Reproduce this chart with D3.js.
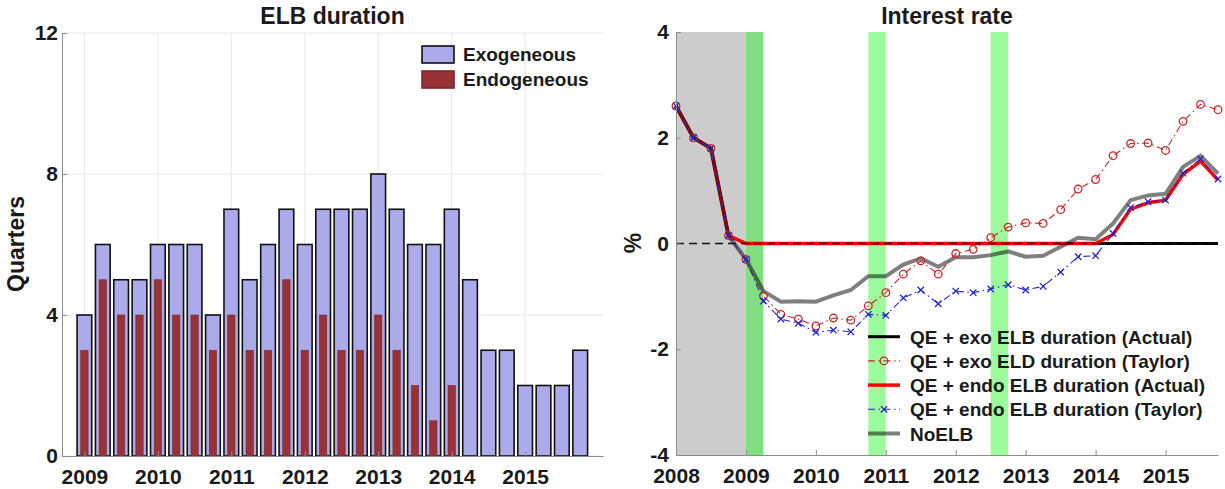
<!DOCTYPE html>
<html>
<head>
<meta charset="utf-8">
<title>ELB duration and interest rate</title>
<script src="https://cdn.jsdelivr.net/npm/d3@7"></script>
<style>
  body { margin: 0; background: #fff; }
  svg text { font-family: "Liberation Sans", Arial, Helvetica, sans-serif; font-weight: bold; fill: #1a1a1a; }
</style>
</head>
<body>
<svg id="svg" width="1225" height="489"></svg>
<script>
// ---- left panel data: ELB duration (quarters) ----
var barDates = [2009, 2009.25, 2009.5, 2009.75, 2010, 2010.25, 2010.5, 2010.75,
                2011, 2011.25, 2011.5, 2011.75, 2012, 2012.25, 2012.5, 2012.75,
                2013, 2013.25, 2013.5, 2013.75, 2014, 2014.25, 2014.5, 2014.75,
                2015, 2015.25, 2015.5, 2015.75];
var exoDuration  = [4, 6, 5, 5, 6, 6, 6, 4, 7, 5, 6, 7, 6, 7, 7, 7, 8, 7, 6, 6, 7, 5, 3, 3, 2, 2, 2, 3];
var endoDuration = [3, 5, 4, 4, 5, 4, 4, 3, 4, 3, 3, 5, 3, 4, 3, 3, 4, 3, 2, 1, 2, 0, 0, 0, 0, 0, 0, 0];
var leftYTicks = [0, 4, 8, 12];
var leftXTicks = [2009, 2010, 2011, 2012, 2013, 2014, 2015];

// ---- right panel data: interest rate (%) ----
var rateDates = [2008, 2008.25, 2008.5, 2008.75, 2009, 2009.25, 2009.5, 2009.75,
                 2010, 2010.25, 2010.5, 2010.75, 2011, 2011.25, 2011.5, 2011.75,
                 2012, 2012.25, 2012.5, 2012.75, 2013, 2013.25, 2013.5, 2013.75,
                 2014, 2014.25, 2014.5, 2014.75, 2015, 2015.25, 2015.5, 2015.75];
var exoActual  = [2.6, 2.0, 1.8, 0.15, 0, 0, 0, 0, 0, 0, 0, 0, 0, 0, 0, 0,
                  0, 0, 0, 0, 0, 0, 0, 0, 0, 0, 0, 0, 0, 0, 0, 0];
var exoTaylor  = [2.6, 2.0, 1.8, 0.15, -0.3, -0.99, -1.34, -1.43, -1.56, -1.41, -1.45, -1.18,
                  -0.93, -0.58, -0.33, -0.58, -0.19, -0.11, 0.11, 0.31, 0.39, 0.38, 0.64, 1.03,
                  1.21, 1.66, 1.89, 1.90, 1.76, 2.31, 2.63, 2.53];
var endoActual = [2.6, 2.0, 1.8, 0.15, 0, 0, 0, 0, 0, 0, 0, 0, 0, 0, 0, 0,
                  0, 0, 0, 0, 0, 0, 0, 0, 0, 0.17, 0.65, 0.77, 0.82, 1.31, 1.56, 1.2];
var endoTaylor = [2.6, 2.0, 1.8, 0.15, -0.3, -1.09, -1.43, -1.51, -1.68, -1.64, -1.67, -1.34,
                  -1.36, -1.03, -0.88, -1.14, -0.90, -0.93, -0.86, -0.78, -0.88, -0.81, -0.54, -0.25,
                  -0.23, 0.19, 0.68, 0.79, 0.82, 1.33, 1.60, 1.22];
var noELB      = [2.6, 2.0, 1.8, 0.15, -0.3, -0.9, -1.1, -1.09, -1.1, -0.98, -0.88, -0.62,
                  -0.62, -0.4, -0.28, -0.44, -0.26, -0.26, -0.22, -0.15, -0.25, -0.23, -0.06, 0.11,
                  0.08, 0.38, 0.82, 0.91, 0.94, 1.45, 1.66, 1.32];
var grayPeriod = [2008, 2009];
var greenBands = [[2009, 2009.25], [2010.75, 2011], [2012.5, 2012.75]];
var rightYTicks = [-4, -2, 0, 2, 4];
var rightXTicks = [2008, 2009, 2010, 2011, 2012, 2013, 2014, 2015];
var seriesNames = ["QE + exo ELB duration (Actual)", "QE + exo ELD duration (Taylor)",
                   "QE + endo ELB duration (Actual)", "QE + endo ELB duration (Taylor)", "NoELB"];

var svg = d3.select("#svg");
var axisColor = "#8c8c8c";

// ================= left panel =================
var L = {left: 62, right: 603, top: 33, bottom: 456};
var xL = d3.scaleLinear().domain([2008.695, 2016.06]).range([L.left, L.right]);
var yL = d3.scaleLinear().domain([0, 12]).range([L.bottom, L.top]);

var gL = svg.append("g");

// grid
gL.selectAll("line.hgrid").data(leftYTicks).enter().append("line")
  .attr("x1", L.left).attr("x2", L.right)
  .attr("y1", function(d) { return yL(d); }).attr("y2", function(d) { return yL(d); })
  .attr("stroke", "#e8e8e8").attr("stroke-width", 1);
gL.selectAll("line.vgrid").data(leftXTicks).enter().append("line")
  .attr("x1", function(d) { return xL(d); }).attr("x2", function(d) { return xL(d); })
  .attr("y1", L.top).attr("y2", L.bottom)
  .attr("stroke", "#e8e8e8").attr("stroke-width", 1);

// bars
var exoW = xL(2009.2) - xL(2009);
var endoW = xL(2009.1) - xL(2009);
gL.selectAll("rect.exo").data(exoDuration).enter().append("rect")
  .attr("x", function(d, i) { return xL(barDates[i]) - exoW / 2; })
  .attr("y", function(d) { return yL(d); })
  .attr("width", exoW)
  .attr("height", function(d) { return yL(0) - yL(d); })
  .attr("fill", "#ababeb").attr("stroke", "#111").attr("stroke-width", 1.6);
gL.selectAll("rect.endo").data(endoDuration).enter().append("rect")
  .attr("x", function(d, i) { return xL(barDates[i]) - endoW / 2; })
  .attr("y", function(d) { return yL(d); })
  .attr("width", endoW)
  .attr("height", function(d) { return yL(0) - yL(d); })
  .attr("fill", "#983236").attr("stroke", "#7a2a2e").attr("stroke-width", 0.6);

// axes
var plain = function(d) { return String(d); };
var axL = d3.axisLeft(yL).tickValues(leftYTicks).tickFormat(plain).tickSizeInner(-5).tickSizeOuter(0).tickPadding(4);
var axB = d3.axisBottom(xL).tickValues(leftXTicks).tickFormat(plain).tickSizeInner(-5).tickSizeOuter(0).tickPadding(13);
gL.append("g").attr("transform", "translate(" + L.left + ",0)").call(axL);
gL.append("g").attr("transform", "translate(0," + L.bottom + ")").call(axB);

gL.append("text").attr("x", (L.left + L.right) / 2).attr("y", 24)
  .attr("text-anchor", "middle").style("font-size", "23px").text("ELB duration");
gL.append("text").attr("transform", "translate(24,244)rotate(-90)")
  .attr("text-anchor", "middle").style("font-size", "23px").text("Quarters");

// legend
var legL = [{name: "Exogeneous", fill: "#ababeb", stroke: "#111", y: 46},
            {name: "Endogeneous", fill: "#983236", stroke: "#7a2a2e", y: 71}];
legL.forEach(function(d) {
  gL.append("rect").attr("x", 422).attr("y", d.y).attr("width", 32).attr("height", 17)
    .attr("fill", d.fill).attr("stroke", d.stroke).attr("stroke-width", 1.6);
  gL.append("text").attr("x", 463).attr("y", d.y + 15).style("font-size", "19px").text(d.name);
});

// ================= right panel =================
var R = {left: 676, right: 1218, top: 32, bottom: 455};
var xR = d3.scaleLinear().domain([2008, 2015.75]).range([R.left, R.right]);
var yR = d3.scaleLinear().domain([-4, 4]).range([R.bottom, R.top]);

var gR = svg.append("g");

gR.append("rect").attr("x", xR(grayPeriod[0])).attr("y", R.top)
  .attr("width", xR(grayPeriod[1]) - xR(grayPeriod[0])).attr("height", R.bottom - R.top)
  .attr("fill", "#cccccc");
gR.selectAll("rect.band").data(greenBands).enter().append("rect")
  .attr("x", function(d) { return xR(d[0]); }).attr("y", R.top)
  .attr("width", function(d) { return xR(d[1]) - xR(d[0]); }).attr("height", R.bottom - R.top)
  .attr("fill", function(d, i) { return i === 0 ? "#7ee07e" : "#9cfb9c"; });

var line = d3.line()
  .x(function(d, i) { return xR(rateDates[i]); })
  .y(function(d) { return yR(d); });

var dashDot = "7,3.5,1.5,3.5";

gR.append("path").datum(exoActual).attr("d", line)
  .attr("fill", "none").attr("stroke", "#000").attr("stroke-width", 3);
gR.append("path").datum(endoActual).attr("d", line)
  .attr("fill", "none").attr("stroke", "#ff0000").attr("stroke-width", 3.5);
gR.append("path").datum(noELB).attr("d", line)
  .attr("fill", "none").attr("stroke", "#000").attr("stroke-opacity", 0.5).attr("stroke-width", 4);

// zero reference line
gR.append("line").attr("x1", R.left).attr("x2", R.right)
  .attr("y1", yR(0)).attr("y2", yR(0))
  .attr("stroke", "#111").attr("stroke-width", 1.3).attr("stroke-dasharray", "8,5");

gR.append("path").datum(exoTaylor).attr("d", line)
  .attr("fill", "none").attr("stroke", "#c0282c").attr("stroke-width", 1.1).attr("stroke-dasharray", dashDot);
gR.selectAll("circle.tay").data(exoTaylor).enter().append("circle")
  .attr("cx", function(d, i) { return xR(rateDates[i]); })
  .attr("cy", function(d) { return yR(d); })
  .attr("r", 3.8).attr("fill", "none").attr("stroke", "#c0282c").attr("stroke-width", 1.3);

gR.append("path").datum(endoTaylor).attr("d", line)
  .attr("fill", "none").attr("stroke", "#2424c8").attr("stroke-width", 1.1).attr("stroke-dasharray", dashDot);
var xMark = function(g, cx, cy, s) {
  g.append("path").attr("d", "M" + (cx - s) + "," + (cy - s) + "L" + (cx + s) + "," + (cy + s) +
                           "M" + (cx - s) + "," + (cy + s) + "L" + (cx + s) + "," + (cy - s))
    .attr("stroke", "#2424c8").attr("stroke-width", 1.3).attr("fill", "none");
};
endoTaylor.forEach(function(d, i) { xMark(gR, xR(rateDates[i]), yR(d), 3.2); });

// axes
var axRL = d3.axisLeft(yR).tickValues(rightYTicks).tickFormat(plain).tickSizeInner(-5).tickSizeOuter(0).tickPadding(7);
var axRB = d3.axisBottom(xR).tickValues(rightXTicks).tickFormat(plain).tickSizeInner(-5).tickSizeOuter(0).tickPadding(13);
gR.append("g").attr("transform", "translate(" + R.left + ",0)").call(axRL);
gR.append("g").attr("transform", "translate(0," + R.bottom + ")").call(axRB);

gR.append("text").attr("x", (R.left + R.right) / 2).attr("y", 24)
  .attr("text-anchor", "middle").style("font-size", "23px").text("Interest rate");
gR.append("text").attr("transform", "translate(641,243)rotate(-90)")
  .attr("text-anchor", "middle").style("font-size", "23px").text("%");

// legend
var legStyles = [
  {color: "#000", width: 3, dash: null, opacity: 1, marker: null},
  {color: "#c0282c", width: 1.1, dash: dashDot, opacity: 1, marker: "o"},
  {color: "#ff0000", width: 3.5, dash: null, opacity: 1, marker: null},
  {color: "#2424c8", width: 1.1, dash: dashDot, opacity: 1, marker: "x"},
  {color: "#000", width: 4, dash: null, opacity: 0.5, marker: null}
];
seriesNames.forEach(function(name, i) {
  var cy = 336.7 + i * 24.2, st = legStyles[i];
  var ln = gR.append("line").attr("x1", 868).attr("x2", 900).attr("y1", cy).attr("y2", cy)
    .attr("stroke", st.color).attr("stroke-width", st.width).attr("stroke-opacity", st.opacity);
  if (st.dash) ln.attr("stroke-dasharray", st.dash);
  if (st.marker === "o") gR.append("circle").attr("cx", 884).attr("cy", cy).attr("r", 3.8)
    .attr("fill", "none").attr("stroke", st.color).attr("stroke-width", 1.3);
  if (st.marker === "x") xMark(gR, 884, cy, 3.2);
  gR.append("text").attr("x", 910).attr("y", cy + 7).style("font-size", "19px").text(name);
});

// axis styling
svg.selectAll(".domain").attr("stroke", axisColor);
svg.selectAll(".tick line").attr("stroke", axisColor);
svg.selectAll(".tick text").style("font-size", "21px").attr("fill", "#262626")
  .style("font-family", "'Liberation Sans', Arial, sans-serif").style("font-weight", "bold");
</script>
</body>
</html>
